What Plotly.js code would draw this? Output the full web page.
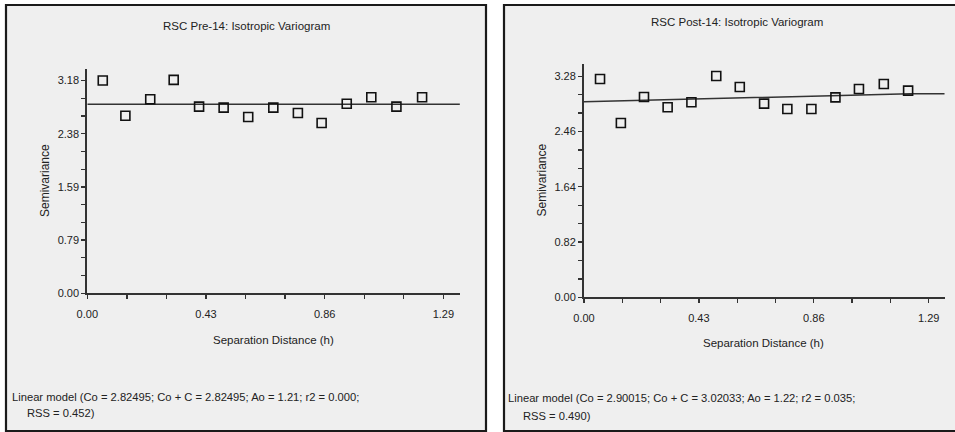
<!DOCTYPE html>
<html>
<head>
<meta charset="utf-8">
<script src="https://cdn.plot.ly/plotly-3.0.1.min.js"></script>
<style>html,body{margin:0;padding:0;background:#fff;}#chart{width:955px;height:432px;}</style>
</head>
<body>
<div id="chart"></div>
<script>
// ---- data ----
var preX  = [0.056, 0.138, 0.228, 0.313, 0.405, 0.494, 0.583, 0.674, 0.763, 0.849, 0.940, 1.029, 1.120, 1.213];
var preY  = [3.180, 2.655, 2.900, 3.190, 2.790, 2.775, 2.635, 2.775, 2.695, 2.545, 2.834, 2.930, 2.790, 2.930];
var postX = [0.060, 0.138, 0.2245, 0.313, 0.402, 0.495, 0.583, 0.674, 0.761, 0.851, 0.941, 1.029, 1.122, 1.213];
var postY = [3.239, 2.586, 2.972, 2.819, 2.893, 3.283, 3.120, 2.873, 2.794, 2.794, 2.967, 3.090, 3.165, 3.066];
var preModelX  = [0, 1.21, 1.35];
var preModelY  = [2.82495, 2.82495, 2.82495];
var postModelX = [0, 1.22, 1.35];
var postModelY = [2.90015, 3.02033, 3.02033];
var xTickVals = [0, 0.43, 0.86, 1.29];
var xTickText = ["0.00", "0.43", "0.86", "1.29"];
var preYTickVals  = [0, 0.795, 1.59, 2.385, 3.18];
var preYTickText  = ["0.00", "0.79", "1.59", "2.38", "3.18"];
var postYTickVals = [0, 0.82, 1.64, 2.46, 3.28];
var postYTickText = ["0.00", "0.82", "1.64", "2.46", "3.28"];
var titles = ["RSC Pre-14: Isotropic Variogram", "RSC Post-14: Isotropic Variogram"];
var xTitle = "Separation Distance (h)";
var yTitle = "Semivariance";
var modelText1 = ["Linear model (Co = 2.82495; Co + C = 2.82495; Ao = 1.21; r2 = 0.000;", "Linear model (Co = 2.90015; Co + C = 3.02033; Ao = 1.22; r2 = 0.035;"];
var modelText2 = ["RSS = 0.452)", "RSS = 0.490)"];

// ---- layout helpers ----
var W = 955, H = 432;
function px(v){ return v / W; }
function py(v){ return 1 - v / H; }
var FONT = '"Liberation Sans", Arial, sans-serif';
var axCol = '#333333';
var txtCol = '#222222';

function markerTrace(x, y, xa, ya){
  return {x: x, y: y, xaxis: xa, yaxis: ya, type: 'scatter', mode: 'markers',
    marker: {symbol: 'square-open', size: 9, color: '#111', line: {width: 1.6, color: '#111'}},
    hoverinfo: 'skip', showlegend: false, cliponaxis: false};
}
function lineTrace(x, y, xa, ya){
  return {x: x, y: y, xaxis: xa, yaxis: ya, type: 'scatter', mode: 'lines',
    line: {color: '#333', width: 1.5}, hoverinfo: 'skip', showlegend: false};
}
var data = [
  lineTrace(preModelX, preModelY, 'x', 'y'),
  markerTrace(preX, preY, 'x', 'y'),
  lineTrace(postModelX, postModelY, 'x2', 'y2'),
  markerTrace(postX, postY, 'x2', 'y2')
];

function xAxis(domain, anchor){
  return {domain: domain, anchor: anchor, range: [0, 1.35], showgrid: false, zeroline: false,
    showline: true, linecolor: axCol, linewidth: 2,
    tickmode: 'array', tickvals: xTickVals, ticktext: xTickText,
    ticks: 'outside', ticklen: 4, tickwidth: 1.3, tickcolor: axCol,
    minor: {dtick: 0.43/3, tick0: 0, ticks: 'outside', ticklen: 4, tickwidth: 1.3, tickcolor: axCol, showgrid: false},
    ticklabelstandoff: 5,
    tickfont: {family: FONT, size: 11, color: txtCol}, fixedrange: true};
}
function yAxis(domain, anchor, range, vals, text, minorStep){
  return {domain: domain, anchor: anchor, range: range, showgrid: false, zeroline: false,
    showline: true, linecolor: axCol, linewidth: 2,
    tickmode: 'array', tickvals: vals, ticktext: text,
    ticks: 'outside', ticklen: 4, tickwidth: 1.3, tickcolor: axCol,
    minor: {dtick: minorStep, tick0: 0, ticks: 'outside', ticklen: 4, tickwidth: 1.3, tickcolor: axCol, showgrid: false},
    ticklabelstandoff: 0,
    tickfont: {family: FONT, size: 11, color: txtCol}, fixedrange: true};
}
function innerX(over, anchor, minorStep){
  return {overlaying: over, anchor: anchor, range: [0, 1.35], showgrid: false, zeroline: false, showline: false,
    tickmode: 'array', tickvals: xTickVals, showticklabels: false,
    ticks: 'inside', ticklen: 3, tickwidth: 1.3, tickcolor: axCol,
    minor: {dtick: minorStep, tick0: 0, ticks: 'inside', ticklen: 3, tickwidth: 1.3, tickcolor: axCol, showgrid: false},
    fixedrange: true};
}
function innerY(over, anchor, range, vals, minorStep){
  return {overlaying: over, anchor: anchor, range: range, showgrid: false, zeroline: false, showline: false,
    tickmode: 'array', tickvals: vals, showticklabels: false,
    ticks: 'inside', ticklen: 3, tickwidth: 1.3, tickcolor: axCol,
    minor: {dtick: minorStep, tick0: 0, ticks: 'inside', ticklen: 3, tickwidth: 1.3, tickcolor: axCol, showgrid: false},
    fixedrange: true};
}

var preXDom = [px(87.3), px(87.3 + 1.35 * 276)];
var preYDom = [py(293.3), py(293.3 - 3.348 * 66.9)];
var postXDom = [px(584), px(584 + 1.35 * 267.2)];
var postYDom = [py(297.3), py(297.3 - 3.461 * 67.4)];

function ann(x, y, text, size, xanchor, angle){
  return {xref: 'paper', yref: 'paper', x: px(x), y: py(y), text: text, showarrow: false,
    xanchor: xanchor, yanchor: 'middle', textangle: angle || 0,
    font: {size: size, family: FONT, color: txtCol}};
}

var layout = {
  width: W, height: H, margin: {l: 0, r: 0, t: 0, b: 0},
  paper_bgcolor: '#ffffff', plot_bgcolor: 'rgba(0,0,0,0)', showlegend: false,
  font: {family: FONT, color: txtCol},
  xaxis: xAxis(preXDom, 'y'),
  yaxis: yAxis(preYDom, 'x', [0, 3.348], preYTickVals, preYTickText, 0.265),
  xaxis2: xAxis(postXDom, 'y2'),
  yaxis2: yAxis(postYDom, 'x2', [0, 3.461], postYTickVals, postYTickText, 0.82/3),
  xaxis3: innerX('x', 'y', 0.43/3),
  yaxis3: innerY('y', 'x', [0, 3.348], preYTickVals, 0.265),
  xaxis4: innerX('x2', 'y2', 0.43/3),
  yaxis4: innerY('y2', 'x2', [0, 3.461], postYTickVals, 0.82/3),
  shapes: [
    {type: 'rect', xref: 'paper', yref: 'paper', layer: 'below', x0: px(6), x1: px(486), y0: py(431), y1: py(5),
     fillcolor: '#efefef', line: {color: '#1a1a1a', width: 2.2}},
    {type: 'rect', xref: 'paper', yref: 'paper', layer: 'below', x0: px(504), x1: px(962), y0: py(431), y1: py(5),
     fillcolor: '#efefef', line: {color: '#1a1a1a', width: 2.2}}
  ],
  annotations: [
    ann(247, 26, titles[0], 11.5, 'center'),
    ann(737, 22, titles[1], 11.5, 'center'),
    ann(45, 181, yTitle, 12, 'center', -90),
    ann(541.5, 180, yTitle, 12, 'center', -90),
    ann(273, 339.5, xTitle, 11.5, 'center'),
    ann(763, 342.7, xTitle, 11.5, 'center'),
    ann(10, 396.7, modelText1[0], 11.2, 'left'),
    ann(25, 413, modelText2[0], 11.2, 'left'),
    ann(505.5, 398.3, modelText1[1], 11.2, 'left'),
    ann(521, 416, modelText2[1], 11.2, 'left')
  ]
};
Plotly.newPlot('chart', data, layout, {staticPlot: true, displayModeBar: false});
</script>
</body>
</html>
